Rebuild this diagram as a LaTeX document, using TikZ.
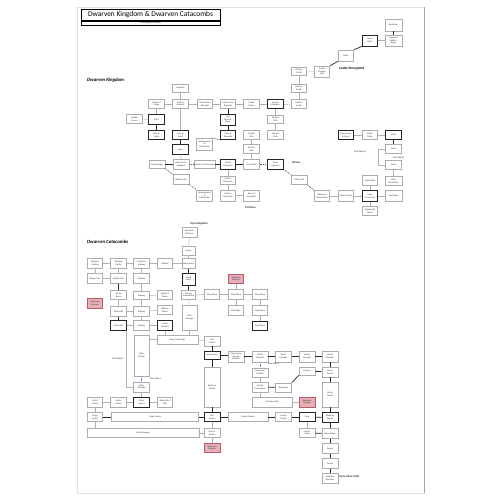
\documentclass[tikz,border=0pt]{standalone}
\usepackage{fontspec}
\setmainfont{Carlito}
\newcommand\bxf{\fontsize{2.3}{2.6}\selectfont}
\definecolor{pinkf}{HTML}{E6B0B6}
\definecolor{pinkd}{HTML}{B85C6A}
\definecolor{purp}{HTML}{9A6BC8}
\tikzset{
  bx/.style={draw=gray!65, line width=0.55pt, fill=white, minimum width=15.5pt, minimum height=9.5pt, inner sep=0.2pt, align=center, font=\bxf, text=black!80},
  bxd/.style={bx, draw=black!85, line width=0.75pt},
  bxp/.style={bx, draw=pinkd, fill=pinkf},
  ln/.style={draw=gray!60, line width=0.5pt},
  lnd/.style={draw=black!85, line width=0.7pt},
  lndash/.style={draw=black!70, line width=0.6pt, dash pattern=on 1pt off 0.8pt},
  lnpur/.style={draw=purp, line width=0.6pt, dash pattern=on 0.7pt off 0.7pt},
  lab/.style={anchor=west, inner sep=0pt, font=\fontsize{2.8}{3}\selectfont\bfseries, text=black!85},
  sect/.style={anchor=west, inner sep=0pt, font=\fontsize{4.8}{5}\selectfont\bfseries\itshape},
}
\begin{document}
\begin{tikzpicture}[x=1pt,y=-1pt]
\useasboundingbox (0,0) rectangle (500,500);
\draw[gray!25, line width=0.4pt] (77,7) rectangle (424,493);
\draw[gray!70, line width=0.6pt] (424,7) -- (424,493);
% title
\draw[black, line width=0.6pt] (81,9) rectangle (220,25);
\draw[black, line width=0.4pt] (81,20.3) -- (220,20.3) (81,21.3) -- (220,21.3);
\node[inner sep=0pt, font=\fontsize{7.4}{8}\selectfont] (title) at (150.5,14.8) {Dwarven Kingdom \& Dwarven Catacombs};
\node[inner sep=0pt, font=\fontsize{2.4}{2.6}\selectfont] (subt) at (150.5,23.2) {Cartographer Edition};

% ---------------- Castle
\node[bx, minimum width=17pt, minimum height=12pt] (bedroom) at (393.5,25) {Bedroom};
\node[bx, minimum width=17pt, minimum height=11pt] (noble) at (393.5,40.5) {Dwarven\\Noble's\\Room};
\node[bxd, minimum height=11pt] (topstairs) at (370,40.5) {Top of\\Stairs};
\node[bx, minimum height=11pt] (stairs) at (346,55.5) {Stairs};
\node[bx, minimum height=11pt] (storage) at (322,71.5) {Castle\\Storage\\Unit};
\node[bx, minimum height=8pt] (gatecastle) at (299,71) {Gate to\\Castle};
\node[bx, minimum height=8pt] (pathcastle1) at (299,88) {Path to\\Castle};
\node[sect, font=\fontsize{3.4}{3.6}\selectfont\itshape\bfseries] (lcastle) at (339,69) {Castle Stronghold};

% ---------------- Kingdom
\node[sect] (lking) at (87,80) {Dwarven Kingdom};
\node[bx, minimum height=8pt] (hospital) at (180.5,88) {Hospital};
\node[bx] (northforge) at (156.5,104) {North of\\Forge};
\node[bx] (pathhosp) at (180.5,104) {Path to\\Hospital};
\node[bx] (pathnext) at (205,104) {Path next to\\Barracks};
\node[bx] (entbarr) at (228,104) {Entrance to\\Barracks};
\node[bx] (guardhouse) at (251.5,104) {Guard\\House};
\node[bxd] (gatekingdom) at (275.5,104) {Gate to\\Kingdom};
\node[bx] (pathcastle2) at (299,104) {Path to\\Castle};

\node[bx] (doublelov) at (134.5,119) {Double\\Lovers};
\node[bxd, minimum height=10.5pt] (path) at (156.5,119.5) {Path};
\node[bxd, minimum height=11pt] (barrack) at (228,119.5) {The\\Barrack\\Room};
\node[bx, minimum height=8pt] (narrow1) at (275.5,119) {Narrow\\Path};

\node[bxd] (hole) at (156.5,135) {Hole \&\\Tomb};
\node[bxd] (cavein) at (180.5,135) {Cave-in\\Road};
\node[bxd] (gatebarr) at (228,135) {Gate of\\Barracks};
\node[bx] (guardspath) at (251.5,135) {Guards\\Path};
\node[bx] (narrow2) at (275.5,135) {Narrow\\Path};
\node[bxd] (warehouse) at (346,135) {Warehouse\\\& Room};
\node[bx] (smallmine) at (370,135) {Small\\Mine};
\node[bxd] (mine1) at (393.5,135) {Mine};
\node[bx, minimum height=12pt] (undercat1) at (204.5,144) {Underground\\to\\Catacombs};

\node[bxd] (farm) at (180.5,149.5) {Farm};
\node[bx] (narrow3) at (251.5,149) {Narrow\\Path};
\node[bx] (mine2) at (393.5,149) {Mine};
\node[lab, font=\fontsize{2.4}{2.6}\selectfont] (oneww) at (354,152) {One Way W};
\node[lab, font=\fontsize{2.4}{2.6}\selectfont] (onewn) at (393,158) {One Way N};

\node[bx, minimum width=16pt, minimum height=7.5pt] (stonebridge) at (157,164.5) {Stone Bridge};
\node[bx, minimum width=16pt] (entking) at (181,164.5) {Entrance to\\Kingdom};
\node[bx, minimum height=8pt] (entmount) at (204.5,164.5) {Entrance to Mountain};
\node[bxd] (gapmount) at (228,164.5) {Gap of\\Mountain};
\node[bx] (mainpath) at (251.5,164.5) {Main Path};
\node[bxd] (inner) at (275.5,164.5) {Inner\\Gateway};
\node[bx] (mine3) at (393.5,165) {Mine};
\node[lab] (lminers) at (292,163) {Miners};

\node[bx, minimum width=16pt] (hiddenlake) at (181,179.5) {Hidden Lake};
\node[bx, minimum height=8pt] (pathmount1) at (228,180) {Path to\\Mountain};
\node[bx] (minerhall) at (299.5,180) {Miner Hall};
\node[bx] (mineshaft) at (370,180.5) {Mine Shaft};
\node[bx, minimum width=17pt] (mineexc) at (393.5,181) {Mine\\Excavation};

\node[bx, minimum height=11pt] (undercat2) at (204.5,195.5) {Underground\\to\\Catacombs};
\node[bx, minimum height=11pt] (pathmount2) at (228,195.5) {Path to\\Mountain};
\node[bx, minimum height=11pt] (basemount) at (251.5,195.5) {Base of\\Mountain};
\node[bx, minimum height=11pt] (halladv) at (322,196) {Hallway of\\Adventurers};
\node[bx, minimum height=11pt] (pathmine) at (346,196) {Path to Mine};
\node[bxd, minimum height=11pt] (crossroad) at (370,196) {Mine\\Crossroad};
\node[bx, minimum width=17pt, minimum height=11pt] (coalmine) at (393.5,196) {Coal Mine};
\node[bx] (equip) at (370,211) {Equipment\\Room};
\node[lab] (ltomines) at (245,208) {To Mines};

% Kingdom connectors
\draw[lnd] (bedroom) -- (noble);
\draw[ln] (noble) -- (topstairs);
\draw[lnd] (topstairs.south west) -- (stairs.north east);
\draw[lnd] (stairs.south west) -- (storage.north east);
\draw[ln, dash pattern=on 1pt off 0.8pt] (gatecastle) -- (storage);
\draw[ln] (gatecastle) -- (pathcastle1);
\draw[ln] (pathcastle1) -- (pathcastle2);
\draw[ln] (hospital) -- (pathhosp);
\draw[ln] (northforge) -- (pathhosp);
\draw[ln] (pathhosp) -- (pathnext);
\draw[ln] (pathnext) -- (entbarr);
\draw[ln] (entbarr) -- (guardhouse);
\draw[ln] (guardhouse) -- (gatekingdom);
\draw[ln, dash pattern=on 1pt off 0.8pt] (gatekingdom) -- (pathcastle2);
\draw[ln] (northforge) -- (path);
\draw[ln] (doublelov) -- (path);
\draw[lnd] (path) -- (hole);
\draw[lnd] (entbarr) -- (barrack);
\draw[lnd] (barrack) -- (gatebarr);
\draw[ln] (gatekingdom) -- (narrow1);
\draw[ln] (narrow1) -- (narrow2);
\draw[ln] (pathhosp) -- (cavein);
\draw[lnd] (cavein) -- (farm);
\draw[ln] (farm) -- (entking);
\draw[ln] (guardspath) -- (narrow3);
\draw[ln] (narrow3) -- (mainpath);
\draw[lndash] (gatebarr.south west) -- (undercat1.north east);
\draw[lnd, line width=1pt] (stonebridge) -- (entking);
\draw[lndash] (entking) -- (entmount);
\draw[lnd, line width=1pt] (entmount) -- (gapmount);
\draw[lnd, line width=1pt] (gapmount) -- (mainpath);
\draw[lndash] (mainpath) -- (inner);
\draw[lndash] (stonebridge.south east) -- (hiddenlake.north west);
\draw[lndash] (hiddenlake.south east) -- (undercat2.north west);
\draw[ln] (gapmount) -- (pathmount1);
\draw[ln] (pathmount1) -- (pathmount2);
\draw[ln] (pathmount2) -- (basemount);
\draw[lndash] (inner.south east) -- (minerhall.north west);
\draw[lndash] (minerhall.south east) -- (halladv.north west);
\draw[ln] (halladv) -- (pathmine);
\draw[ln] (pathmine) -- (crossroad);
\draw[ln] (crossroad) -- (coalmine);
\draw[ln] (crossroad) -- (mineshaft);
\draw[ln] (crossroad) -- (equip);
\draw[ln] (warehouse) -- (smallmine);
\draw[ln] (smallmine) -- (mine1);
\draw[lnd] (mine1) -- (mine2);
\draw[ln] (mine2.west) -- ++(-7,0) |- (mine3.west);
\draw[ln] (mine3) -- (mineexc);

% ---------------- Catacombs
\node[sect] (lcata) at (87,242) {Dwarven Catacombs};
\node[lab] (lupking) at (190,224) {Up to Kingdom};
\node[bx, minimum width=15pt, minimum height=10pt] (northent) at (189.5,232) {Northern\\Entrance};
\node[bx, minimum width=13pt, minimum height=9pt] (lower) at (188.5,250.5) {Lower};

\node[bx] (wtrain) at (95,263.5) {Weapon\\Training};
\node[bx] (wsmith) at (118.5,263.5) {Weapon\\Smithy};
\node[bx] (shall) at (141.5,263.5) {Southern\\Hallway};
\node[bx] (hall1) at (165,263.5) {Hallway};
\node[bx, minimum width=13pt] (inters1) at (188.5,263.5) {Intersection};

\node[bx] (wunit) at (95,278.5) {Wagon Unit};
\node[bx] (eunit) at (118.5,278.5) {English Unit};
\node[bx] (hall2) at (141.5,278.5) {Hallway};
\node[bxd, minimum width=13pt, minimum height=12pt] (guardcamp) at (188.5,279) {Guard\\Camp};
\node[bxp] (pink2) at (236,279) {Unknown\\Passage};

\node[bxp] (pink1) at (95,303.5) {Unknown\\Passage};
\node[bx] (armor) at (118.5,295) {Armor\\Room};
\node[bx, minimum height=7.5pt] (hall3) at (141.5,295.5) {Hallway};
\node[bx] (leader) at (165,295) {Leader's\\Room};
\node[bx, minimum width=14pt] (miningprep) at (188.5,295) {Mining\\Preparation};
\node[bx] (wayin1) at (212,294.5) {Way Inflow};
\node[bx] (wayin2) at (236,294.5) {Way Inflow};
\node[bx] (wayin3) at (260,294.5) {Way Inflow};

\node[bx] (mess1) at (118.5,311.5) {Mess Hall};
\node[bx] (hall4) at (141.5,311.5) {Hallway};
\node[bx] (officers) at (165,310) {Officers\\Room};
\node[bx, minimum width=15pt, minimum height=25pt] (darkpass) at (189.5,317.5) {Dark\\Passage};
\node[bx] (kilo) at (236,310.5) {Kilo Slope};
\node[bx] (stepdown) at (260,310.5) {Step Down};

\node[bxd] (mess2) at (118.5,325.5) {Mess Hall};
\node[bx] (hall5) at (141.5,325.5) {Hallway};
\node[bxd] (temple) at (165,325.5) {Grand\\Temple's};
\node[bxd] (darkplace) at (260,326) {Dark Place};

\node[bx, minimum width=41pt, minimum height=9pt] (deepcat) at (177.5,339.5) {Deep Catacombs};
\node[bx, minimum width=15pt, minimum height=41pt] (darkchasm) at (141.5,355.5) {Dark\\Chasm};
\node[bx, minimum width=16pt, minimum height=10pt] (lostcav) at (212,341) {Lost\\Cavern};

\node[bxd, minimum width=16pt, minimum height=8pt] (inters2) at (212,355) {Intersection};
\node[bx, minimum width=16pt, minimum height=11pt] (entburial) at (236,356.5) {Entrance to\\Sacred\\Mounds};
\node[bx, minimum width=16pt, minimum height=11pt] (burial1) at (260,356.5) {Burial\\Mounds};
\node[bx, minimum width=16pt, minimum height=11pt] (burial2) at (283.5,356.5) {Burial\\Mounds};
\node[bx, minimum width=16pt, minimum height=11pt] (burial3) at (307,356.5) {Burial\\Mounds};
\node[bx, minimum width=16pt, minimum height=11pt] (burial4) at (330,356.5) {Burial\\Mounds};

\node[bx, minimum width=16pt, minimum height=40pt] (bedrock) at (212,387) {Bedrock\\Tunnel};
\node[lab, font=\fontsize{2.4}{2.6}\selectfont] (onews2) at (268,364) {One Way S};
\node[bx, minimum width=16pt, minimum height=9pt] (crossmound) at (260,372.5) {Crossroad\\Mound};
\node[bx, minimum width=16pt, minimum height=10pt] (locked) at (260,387) {Locked\\Monument};
\node[bx, minimum width=16pt, minimum height=9pt] (basement) at (283.5,387.5) {Basement};
\node[bx, minimum width=16pt, minimum height=8pt] (caverns) at (307,371) {Caverns};
\node[bx, minimum width=16pt, minimum height=10pt] (ruins1) at (330,372) {Stone\\Tunnel};
\node[bx, minimum width=40pt, minimum height=10pt] (southhall) at (272,402) {Southern Hall};
\node[bxp, minimum width=16pt, minimum height=10pt] (pink3) at (307,402) {Unknown\\Passage};
\node[bx, minimum width=16pt, minimum height=25pt] (ruins2) at (330,394.5) {Stone\\Tunnel};

\node[lab, font=\fontsize{2.4}{2.6}\selectfont] (onewn2) at (112,359) {One Way N};
\node[bx, minimum height=10pt] (mistypass) at (141.5,387) {Misty\\Passage};
\node[lab, font=\fontsize{2.4}{2.6}\selectfont] (onews1) at (150,379) {One Way S};

\node[bx] (mcav1) at (95,402.5) {Misty\\Cavern};
\node[bx] (mcav2) at (118.5,402.5) {Misty\\Cavern};
\node[bxd] (mcav3) at (141.5,402.5) {Misty\\Cavern};
\node[bx] (waterfall) at (165,402.5) {Waterfall of\\Mist};

\node[bx] (foggy) at (95,417) {Foggy\\Cavern};
\node[bx, minimum width=87pt] (crypt) at (155,417) {Crypt Tunnel};
\node[bxd, minimum width=16pt] (hill) at (212,417) {Hill\\Cavern};
\node[bx, minimum width=40pt] (lonely1) at (248,417) {Lonely Tunnel};
\node[bx, minimum width=16pt] (lonely2) at (283.5,417) {Lonely\\Tunnel};
\node[bxd, minimum width=16pt] (cave) at (307,417) {Cave};
\node[bxd, minimum width=16pt] (shadowy) at (330,417.5) {Shadowy\\Tunnel};

\node[bx, minimum width=112pt] (mpw) at (143,433) {Misty Passage};
\node[bx, minimum width=16pt] (pool) at (212,433) {Pool of\\Cavern};
\node[bx, minimum width=16pt] (lonelycamp) at (307,433) {Lonely\\Camp};
\node[bx, minimum width=16pt] (inters3) at (330,433.5) {Intersection};
\node[bxp, minimum width=16pt] (pink4) at (212,448) {Unknown\\Passage};
\node[bx, minimum width=16pt] (tunnel1) at (330,448.5) {Tunnel};
\node[bx, minimum width=16pt] (tunnel2) at (330,463.5) {Tunnel};
\node[bx, minimum width=16pt, minimum height=10pt] (southent) at (330,478) {Southern\\Entrance};
\node[lab] (lupcellar) at (339,477) {Up to Mine Cellar};

% Catacomb connectors
\draw[ln] (northent) -- (lower);
\draw[ln] (lower) -- (inters1);
\draw[lnd] (inters1) -- (guardcamp);
\draw[lnd] (guardcamp) -- (miningprep);
\draw[ln] (miningprep) -- (darkpass);
\draw[ln] (darkpass) -- (darkpass |- deepcat.north);
\draw[ln] (wtrain) -- (wsmith);
\draw[ln] (wsmith) -- (shall);
\draw[ln] (shall) -- (hall1);
\draw[ln] (hall1) -- (inters1);
\draw[ln] (wtrain) -- (wunit);
\draw[ln] (wunit) -- (eunit);
\draw[ln] (wsmith) -- (eunit);
\draw[lnd] (eunit) -- (armor);
\draw[ln] (armor) -- (mess1);
\draw[lnd] (mess1) -- (mess2);
\draw[ln] (shall) -- (hall2);
\draw[ln] (hall2) -- (hall3);
\draw[ln] (hall3) -- (hall4);
\draw[ln] (hall4) -- (hall5);
\draw[ln] (hall3) -- (leader);
\draw[ln] (hall4) -- (officers);
\draw[ln] (hall5) -- (temple);
\draw[ln] (mess1) -- (hall4);
\draw[ln] (mess2) -- (hall5);
\draw[ln] (temple) -- (temple |- deepcat.north);
\draw[ln] (darkchasm.east |- deepcat.west) -- (deepcat.west);
\draw[ln] (deepcat) -- (lostcav);
\draw[lnd] (lostcav) -- (inters2);
\draw[ln] (miningprep) -- (wayin1);
\draw[ln] (wayin1) -- (wayin2);
\draw[ln] (wayin2) -- (wayin3);
\draw[ln] (pink2) -- (wayin2);
\draw[ln] (wayin2) -- (kilo);
\draw[ln] (wayin3) -- (stepdown);
\draw[ln] (stepdown) -- (darkplace);
\draw[lnd] (inters2.east) -- (entburial.west |- inters2.east);
\draw[lnd] (entburial) -- (burial1);
\draw[lnd] (burial1) -- (burial2);
\draw[lnd] (burial2) -- (burial3);
\draw[lnd] (burial3) -- (burial4);
\draw[lnd] (inters2) -- (bedrock);
\draw[lnd] (bedrock) -- (hill);
\draw[ln] (hill) -- (pool);
\draw[ln] (pool) -- (pink4);
\draw[lnpur] (burial1) -- (crossmound);
\draw[ln] (crossmound) -- (locked);
\draw[lnd] (locked) -- (basement);
\draw[lnd] (basement.north east) -- (caverns.south west);
\draw[lnd] (caverns) -- (ruins1);
\draw[lnd] (burial4) -- (ruins1);
\draw[lnd] (ruins1) -- (ruins2);
\draw[lnd] (ruins2) -- (shadowy);
\draw[lnd] (shadowy) -- (inters3);
\draw[lnd] (inters3) -- (tunnel1);
\draw[lnd] (tunnel1) -- (tunnel2);
\draw[lnd] (tunnel2) -- (southent);
\draw[ln] (locked) -- (locked |- southhall.north);
\draw[ln] (southhall) -- (pink3);
\draw[lnd] (foggy) -- (crypt);
\draw[lnd] (crypt) -- (hill);
\draw[lnd] (hill) -- (lonely1);
\draw[lnd] (lonely1) -- (lonely2);
\draw[lnd] (lonely2) -- (cave);
\draw[lnd] (cave) -- (shadowy);
\draw[ln] (cave) -- (lonelycamp);
\draw[lnd] (lonelycamp) -- (inters3);
\draw[ln] (mcav1) -- (foggy);
\draw[ln] (foggy) -- (foggy |- mpw.north);
\draw[ln] (mpw.east |- pool) -- (pool);
\draw[ln] (mcav1) -- (mcav2);
\draw[ln] (mcav2) -- (mcav3);
\draw[ln] (mcav3) -- (waterfall);
\draw[ln] (mistypass) -- (mcav3);
\draw[lnpur] (darkchasm) -- (mistypass);
\draw[ln] (mess2.south east) |- (mistypass.west);
\end{tikzpicture}
\end{document}
